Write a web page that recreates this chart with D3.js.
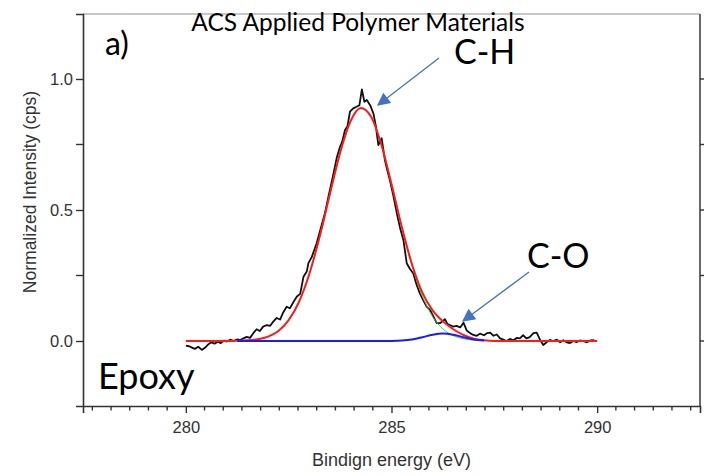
<!DOCTYPE html>
<html>
<head>
<meta charset="utf-8">
<script src="https://cdn.jsdelivr.net/npm/d3@7"></script>
<style>
  html, body { margin: 0; padding: 0; background: #fff; }
  svg { display: block; }
</style>
</head>
<body>
<svg id="chart" width="704" height="476"></svg>
<script>
// C 1s spectrum of the epoxy surface: measured counts and the two-component fit.
const dataEnergy = [
  280.00, 280.08, 280.15, 280.22, 280.30, 280.39, 280.47, 280.55, 280.62, 280.70,
  280.78, 280.85, 280.93, 281.00, 281.08, 281.16, 281.24, 281.32, 281.40, 281.48,
  281.56, 281.64, 281.72, 281.80, 281.88, 281.97, 282.05, 282.13, 282.21, 282.29,
  282.37, 282.45, 282.53, 282.62, 282.70, 282.78, 282.86, 282.94, 282.98, 283.06,
  283.18, 283.28, 283.38, 283.48, 283.59, 283.67, 283.75, 283.80, 283.87, 283.93,
  283.99, 284.07, 284.15, 284.22, 284.28, 284.34, 284.40, 284.48, 284.56, 284.62,
  284.68, 284.76, 284.84, 284.90, 284.96, 285.05, 285.13, 285.21, 285.29, 285.37,
  285.45, 285.53, 285.61, 285.69, 285.77, 285.86, 285.94, 286.02, 286.10, 286.18,
  286.30, 286.36, 286.42, 286.50, 286.58, 286.67, 286.75, 286.83, 286.91, 286.99,
  287.07, 287.15, 287.25, 287.32, 287.40, 287.48, 287.56, 287.64, 287.72, 287.80,
  287.88, 287.96, 288.05, 288.12, 288.20, 288.28, 288.36, 288.45, 288.53, 288.61,
  288.69, 288.77, 288.85, 288.93, 289.02, 289.10, 289.18, 289.26, 289.34, 289.42,
  289.50, 289.58, 289.66, 289.75, 289.83, 289.91, 289.97
];
const dataIntensity = [
  -0.018, -0.020, -0.025, -0.030, -0.022, -0.034, -0.025, -0.012, -0.005, -0.010,
  -0.003, -0.008, 0.002, -0.002, 0.005, 0.000, 0.006, 0.004, 0.010, 0.016,
  0.012, 0.030, 0.045, 0.038, 0.055, 0.061, 0.058, 0.075, 0.088, 0.082,
  0.110, 0.131, 0.125, 0.150, 0.170, 0.180, 0.245, 0.265, 0.297, 0.320,
  0.373, 0.430, 0.487, 0.560, 0.640, 0.700, 0.742, 0.760, 0.805, 0.820,
  0.875, 0.888, 0.894, 0.900, 0.960, 0.913, 0.920, 0.900, 0.869, 0.820,
  0.748, 0.774, 0.690, 0.650, 0.614, 0.550, 0.487, 0.430, 0.385, 0.297,
  0.275, 0.258, 0.215, 0.182, 0.156, 0.130, 0.118, 0.093, 0.068, 0.068,
  0.083, 0.065, 0.061, 0.055, 0.058, 0.052, 0.070, 0.040, 0.030, 0.023,
  0.020, 0.028, 0.022, 0.030, 0.032, 0.020, 0.025, 0.010, 0.005, 0.000,
  0.008, 0.003, 0.012, 0.010, 0.022, 0.010, 0.015, 0.030, 0.032, 0.005,
  -0.015, -0.005, 0.004, 0.000, 0.005, -0.005, 0.003, -0.005, -0.008, 0.000,
  -0.004, 0.002, 0.000, -0.005, 0.002, 0.003, -0.002
];

// Fit grid and components
const fitEnergy = [
  280.00, 281.00, 281.25, 281.50, 281.75, 282.00, 282.25, 282.50, 282.75, 283.00,
  283.25, 283.50, 283.75, 284.00, 284.25, 284.50, 284.75, 285.00, 285.25, 285.50,
  285.75, 286.00, 286.25, 286.50, 286.75, 287.00, 287.25, 287.50, 288.00, 289.00, 290.00
];
const fitCH = [
  0.000, 0.000, 0.001, 0.0025, 0.0067, 0.0169, 0.0384, 0.0795, 0.149, 0.255,
  0.396, 0.559, 0.718, 0.837, 0.889, 0.857, 0.751, 0.599, 0.434, 0.286,
  0.171, 0.093, 0.046, 0.0208, 0.0085, 0.0032, 0.001, 0.000, 0.000, 0.000, 0.000
];
const fitCO = [
  0.000, 0.000, 0.000, 0.000, 0.000, 0.000, 0.000, 0.000, 0.000, 0.000,
  0.000, 0.000, 0.000, 0.000, 0.000, 0.000, 0.000, 0.0003, 0.0017, 0.0059,
  0.0143, 0.0243, 0.029, 0.0243, 0.0143, 0.0059, 0.0017, 0.0003, 0.000, 0.000, 0.000
];
const fitEnvelope = [
  0.000, 0.000, 0.001, 0.0025, 0.0067, 0.0169, 0.0384, 0.0795, 0.149, 0.255,
  0.396, 0.559, 0.718, 0.837, 0.889, 0.857, 0.751, 0.599, 0.436, 0.292,
  0.185, 0.117, 0.075, 0.045, 0.023, 0.009, 0.003, 0.0003, 0.000, 0.000, 0.000
];
// The component curves cover only the fitted window
const componentRange = [281.25, 287.25];

const xTickValues = [280, 285, 290];
const yTickValues = [0.0, 0.5, 1.0];
const yMinorValues = [0.25, 0.75];

const svg = d3.select("#chart");
const margin = { left: 83, right: 4, top: 14, bottom: 70 };
const W = 704, H = 476;

const x = d3.scaleLinear().domain([277.5, 292.5]).range([margin.left, W - margin.right]);
const y = d3.scaleLinear().domain([-0.248, 1.248]).range([H - margin.bottom, margin.top]);

const axisColor = "#333";
const axisFont = "'Liberation Sans', Arial, sans-serif";
const plotLeft = x.range()[0], plotRight = x.range()[1];
const plotTop = y.range()[1], plotBottom = y.range()[0];

// Minor ticks on the energy axis: ten between labelled values
const minorStep = 5 / 11;
const xMinor = d3.range(-5, 28).map(k => 280 + k * minorStep)
  .filter(v => v > x.domain()[0] && v < x.domain()[1])
  .filter(v => !xTickValues.some(t => Math.abs(t - v) < 1e-6));

// Frame: light top edge, dark left/right/bottom
svg.append("line")
  .attr("x1", plotLeft).attr("x2", plotRight)
  .attr("y1", plotTop).attr("y2", plotTop)
  .attr("stroke", "#b4b4b4").attr("stroke-width", 1.6);
svg.append("line")
  .attr("x1", plotRight).attr("x2", plotRight)
  .attr("y1", plotTop).attr("y2", plotBottom)
  .attr("stroke", "#444").attr("stroke-width", 1.6);

// Bottom axis
const xAxis = d3.axisBottom(x).tickValues(xTickValues).tickFormat(d3.format("d"))
  .tickSize(7).tickPadding(8);
const gx = svg.append("g").attr("transform", `translate(0,${plotBottom})`).call(xAxis);
gx.select(".domain").attr("stroke", axisColor).attr("stroke-width", 1.6);
gx.selectAll(".tick line").attr("stroke", axisColor).attr("stroke-width", 1.4);
gx.selectAll(".tick text")
  .attr("font-family", axisFont).attr("font-size", 16.5).attr("fill", "#333");
gx.selectAll(".minor").data(xMinor).enter().append("line")
  .attr("class", "minor")
  .attr("x1", d => x(d)).attr("x2", d => x(d))
  .attr("y1", 0).attr("y2", 4.5)
  .attr("stroke", axisColor).attr("stroke-width", 1.4);

// Left axis
const yAxis = d3.axisLeft(y).tickValues(yTickValues).tickFormat(d3.format(".1f"))
  .tickSize(7).tickPadding(3);
const gy = svg.append("g").attr("transform", `translate(${plotLeft},0)`).call(yAxis);
gy.select(".domain").attr("stroke", axisColor).attr("stroke-width", 1.6);
gy.selectAll(".tick line").attr("stroke", axisColor).attr("stroke-width", 1.4);
gy.selectAll(".tick text")
  .attr("font-family", axisFont).attr("font-size", 16.5).attr("fill", "#333");
gy.selectAll(".minor").data(yMinorValues).enter().append("line")
  .attr("class", "minor")
  .attr("x1", 0).attr("x2", -7)
  .attr("y1", d => y(d)).attr("y2", d => y(d))
  .attr("stroke", axisColor).attr("stroke-width", 1.4);

// Right axis ticks (outward)
const gr = svg.append("g").attr("transform", `translate(${plotRight},0)`);
gr.selectAll("line").data(yTickValues.concat(yMinorValues)).enter().append("line")
  .attr("x1", 0).attr("x2", 7)
  .attr("y1", d => y(d)).attr("y2", d => y(d))
  .attr("stroke", axisColor).attr("stroke-width", 1.4);

// Axis titles
svg.append("text")
  .attr("x", x(285)).attr("y", 466)
  .attr("text-anchor", "middle")
  .attr("font-family", axisFont).attr("font-size", 18).attr("fill", "#333")
  .text("Bindign energy (eV)");
svg.append("text")
  .attr("transform", `translate(36,${(y(1.0) + y(0.0)) / 2 - 18}) rotate(-90)`)
  .attr("text-anchor", "middle")
  .attr("font-family", axisFont).attr("font-size", 17.5).attr("fill", "#333")
  .text("Normalized Intensity (cps)");

// Curves
const pts = (xs, ys) => xs.map((e, i) => [e, ys[i]]);
const line = d3.line().x(d => x(d[0])).y(d => y(d[1]));
const smooth = d3.line().x(d => x(d[0])).y(d => y(d[1])).curve(d3.curveMonotoneX);
const inWindow = d => d[0] >= componentRange[0] - 1e-9 && d[0] <= componentRange[1] + 1e-9;

svg.append("path").datum(pts(dataEnergy, dataIntensity))
  .attr("d", line).attr("fill", "none")
  .attr("stroke", "#111").attr("stroke-width", 1.8).attr("stroke-linejoin", "round");

svg.append("path").datum(pts(fitEnergy, fitCH).filter(inWindow))
  .attr("d", smooth).attr("fill", "none")
  .attr("stroke", "#33cc33").attr("stroke-width", 0.9);

svg.append("path").datum(pts(fitEnergy, fitEnvelope))
  .attr("d", smooth).attr("fill", "none")
  .attr("stroke", "#ff1a1a").attr("stroke-width", 2);

svg.append("path").datum(pts(fitEnergy, fitCO).filter(inWindow))
  .attr("d", smooth).attr("fill", "none")
  .attr("stroke", "#1a1aff").attr("stroke-width", 2);

// Annotation arrows
const arrowBlue = "#4472c4";
const defs = svg.append("defs");
defs.append("marker")
  .attr("id", "head").attr("viewBox", "0 0 10 10")
  .attr("refX", 9).attr("refY", 5)
  .attr("markerUnits", "userSpaceOnUse")
  .attr("markerWidth", 17).attr("markerHeight", 13)
  .attr("orient", "auto")
  .append("path").attr("d", "M0,0 L10,5 L0,10 Z").attr("fill", arrowBlue);

const arrows = [
  { from: [439, 58], to: [378, 105] },
  { from: [529, 272], to: [463, 321] }
];
svg.selectAll(".arrow").data(arrows).enter().append("line")
  .attr("class", "arrow")
  .attr("x1", d => d.from[0]).attr("y1", d => d.from[1])
  .attr("x2", d => d.to[0]).attr("y2", d => d.to[1])
  .attr("stroke", arrowBlue).attr("stroke-width", 1.3)
  .attr("marker-end", "url(#head)");

// Labels
const labelFont = "Lato, 'Open Sans', sans-serif";
svg.append("text").attr("x", 358).attr("y", 31)
  .attr("text-anchor", "middle")
  .attr("font-family", labelFont).attr("font-size", 24.5).attr("fill", "#000")
  .text("ACS Applied Polymer Materials");
svg.append("text").attr("x", 105).attr("y", 55)
  .attr("font-family", labelFont).attr("font-size", 32).attr("fill", "#000")
  .text("a)");
svg.append("text").attr("x", 454).attr("y", 64)
  .attr("font-family", labelFont).attr("font-size", 34).attr("fill", "#000")
  .text("C-H");
svg.append("text").attr("x", 527).attr("y", 268)
  .attr("font-family", labelFont).attr("font-size", 34).attr("fill", "#000")
  .text("C-O");
svg.append("text").attr("x", 98).attr("y", 389)
  .attr("font-family", labelFont).attr("font-size", 36).attr("fill", "#000")
  .text("Epoxy");
</script>
</body>
</html>
